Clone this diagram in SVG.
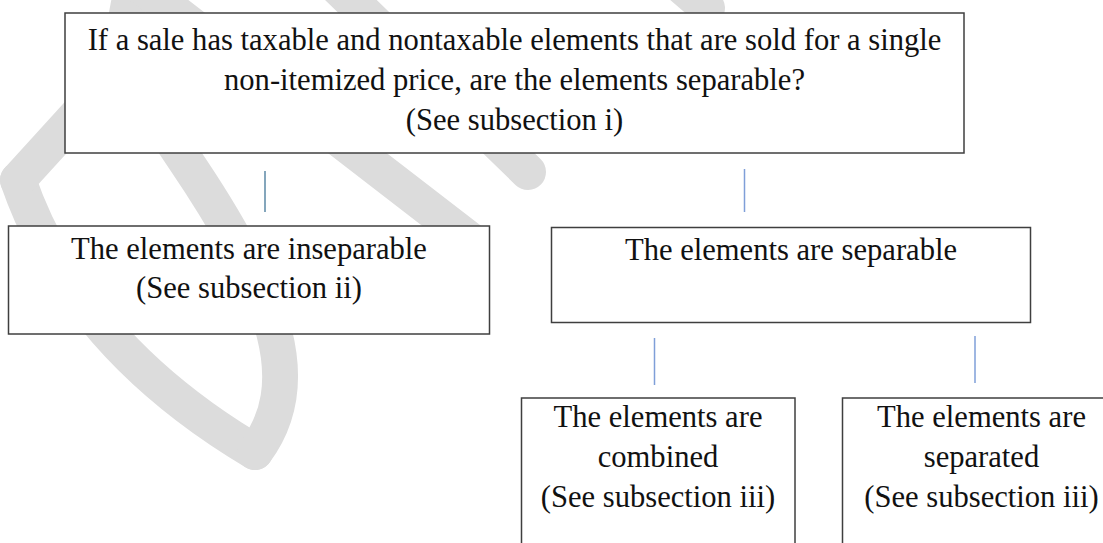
<svg xmlns="http://www.w3.org/2000/svg" width="1103" height="543" viewBox="0 0 1103 543">
<style>
.wm{fill:none;stroke:#dcdcdc;stroke-width:36;stroke-linecap:round;stroke-linejoin:round}
.box{fill:#ffffff;stroke:#3f3f3f;stroke-width:1.5}
.t{font-family:'Liberation Serif','Times New Roman','DejaVu Serif',serif;font-size:30.6px;fill:#111111;text-anchor:middle}
.c1{stroke:#5b89a6;stroke-width:1.5}
.c2{stroke:#7f9fd8;stroke-width:1.5}
</style>
<rect width="1103" height="543" fill="#ffffff"/>
<g id="watermark">
<path class="wm" d="M18,180 Q75,345 255,452"/>
<path class="wm" d="M18,180 L150,35"/>
<path class="wm" d="M255,452 C305,385 280,300 185,160 S140,20 130,-30"/>
<path class="wm" d="M120,-30 L470,240"/>
<path class="wm" d="M320,-30 L528,172"/>
<path class="wm" d="M640,-50 L707,8"/>
</g>
<g id="connectors">
<line class="c1" x1="265" y1="171" x2="265" y2="212"/>
<line class="c2" x1="744.5" y1="169" x2="744.5" y2="212"/>
<line class="c2" x1="654.5" y1="338" x2="654.5" y2="385"/>
<line class="c2" x1="975" y1="336" x2="975" y2="383"/>
</g>
<g id="n-top">
<rect class="box" x="65" y="13" width="899" height="140"/>
<text class="t" x="514.5" y="50">If a sale has taxable and nontaxable elements that are sold for a single</text>
<text class="t" x="514.5" y="90">non-itemized price, are the elements separable?</text>
<text class="t" x="514.5" y="130">(See subsection i)</text>
</g>
<g id="n-inseparable">
<rect class="box" x="8.5" y="226" width="481" height="108"/>
<text class="t" x="249" y="259">The elements are inseparable</text>
<text class="t" x="249" y="298">(See subsection ii)</text>
</g>
<g id="n-separable">
<rect class="box" x="551.5" y="227.5" width="479" height="95"/>
<text class="t" x="791" y="260">The elements are separable</text>
</g>
<g id="n-combined">
<rect class="box" x="521.5" y="398" width="273.5" height="160"/>
<text class="t" x="658" y="427">The elements are</text>
<text class="t" x="658" y="467">combined</text>
<text class="t" x="658" y="507">(See subsection iii)</text>
</g>
<g id="n-separated">
<rect class="box" x="842.5" y="398" width="278" height="160"/>
<text class="t" x="981.5" y="427">The elements are</text>
<text class="t" x="981.5" y="467">separated</text>
<text class="t" x="981.5" y="507">(See subsection iii)</text>
</g>
</svg>
